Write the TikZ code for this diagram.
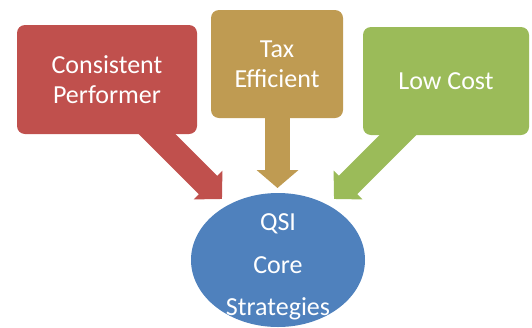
\documentclass[tikz,border=0pt]{standalone}
\usepackage{fontspec}
\setmainfont{Carlito}
\usetikzlibrary{shapes.geometric,arrows.meta}
\definecolor{cred}{HTML}{C0504D}
\definecolor{ctan}{HTML}{BF9B52}
\definecolor{cgreen}{HTML}{9BBB59}
\definecolor{cblue}{HTML}{4F81BD}
\tikzset{
  box/.style={rounded corners=8pt, inner sep=0pt, text=white, align=center,
    font=\fontsize{26}{30}\selectfont},
  core/.style={ellipse, fill=cblue, inner sep=0pt,
    minimum width=174pt, minimum height=134pt},
  coretext/.style={inner sep=0pt, text=white, align=center,
    font=\fontsize{26}{42.5}\selectfont}
}
\begin{document}
\begin{tikzpicture}[x=1pt,y=-1pt]
\useasboundingbox (0,0) rectangle (532,327);
% arrow endpoints
\coordinate (rs) at (115,92);
\coordinate (rt) at (222,199);
\coordinate (ts) at (277.5,100);
\coordinate (tt) at (277.5,188);
\coordinate (gs) at (441,92);
\coordinate (gt) at (334,199);
% arrows
\draw[cred, line width=26pt, -{Triangle[length=19.8pt,width=39.6pt]}] (rs) -- (rt);
\draw[ctan, line width=25pt, -{Triangle[length=18pt,width=41pt]}] (ts) -- (tt);
\draw[cgreen, line width=26pt, -{Triangle[length=19.8pt,width=39.6pt]}] (gs) -- (gt);
% boxes
\node[box, fill=cred, minimum width=180pt, minimum height=109pt] (cp) at (107,79.5) {Consistent\\Performer};
\node[box, fill=ctan, minimum width=132pt, minimum height=108pt] (te) at (277,64) {Tax\\Efficient};
\node[box, fill=cgreen, minimum width=166pt, minimum height=108pt] (lc) at (446,81) {Low Cost};
% core
\node[core] (qsi) at (278,260) {};
\node[coretext] (qsit) at ([yshift=-7pt]qsi.center) {QSI\\Core\\Strategies};
\end{tikzpicture}
\end{document}
